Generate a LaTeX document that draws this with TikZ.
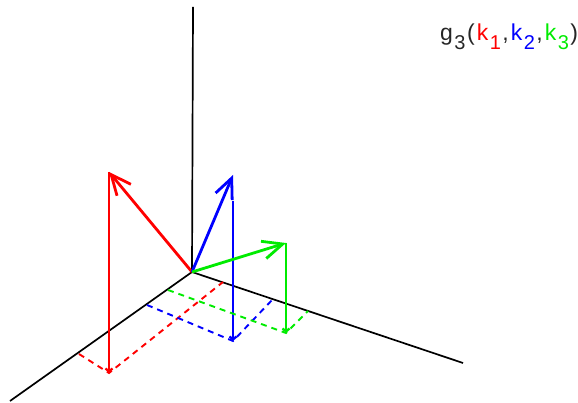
\documentclass[tikz,border=0pt]{standalone}
\usepackage{fontspec}
\setmainfont{Liberation Sans}
\usetikzlibrary{arrows.meta}
\definecolor{rr}{RGB}{255,0,0}
\definecolor{bb}{RGB}{0,0,255}
\definecolor{gg}{RGB}{0,235,0}
\tikzset{
  axis/.style={line width=1.7pt, black},
  vec/.style={line width=2.8pt, -{Straight Barb[length=20pt,width=18pt]}},
  drop/.style={line width=2.3pt, -{Straight Barb[length=3pt,width=7pt]}},
  proj/.style={line width=1.9pt, dash pattern=on 6pt off 5pt},
}
\newcommand{\subsc}[1]{\hspace{1.5pt}\raisebox{-0.38em}{\fontsize{20}{20}\selectfont #1}\hspace{1.5pt}}
\newcommand{\gp}{\hspace{2pt}}
\begin{document}
\begin{tikzpicture}[x=1pt,y=-1pt]
\useasboundingbox (0,0) rectangle (578,403);
% axes
\coordinate (O) at (192,272);
\coordinate (Z) at (193,7);
\coordinate (L) at (10,401);
\coordinate (R) at (463,363);
\draw[axis] (O) -- (Z);
\draw[axis] (O) -- (L);
\draw[axis] (O) -- (R);
% red
\coordinate (rt) at (109,172);
\coordinate (rg) at (109,373);
\coordinate (rl) at (79,354);
\coordinate (rr) at (223,282);
\draw[proj, rr] (rl) -- (rg) -- (rr);
\draw[drop, rr] (rt) -- (rg);
\draw[vec, rr] (O) -- (rt);
% blue
\coordinate (bt) at (233,175);
\coordinate (bv) at (233,201);
\coordinate (bg) at (233,341);
\coordinate (bl) at (147,305);
\coordinate (br) at (273,299);
\draw[proj, bb] (bl) -- (bg) -- (br);
\draw[drop, bb] (bv) -- (bg);
\draw[vec, bb] (O) -- (bt);
% green
\coordinate (gt) at (286,243);
\coordinate (gg) at (286,333);
\coordinate (gl) at (168,290);
\coordinate (gr) at (308,311);
\draw[proj, gg] (gl) -- (gg) -- (gr);
\draw[drop, gg] (gt) -- (gg);
\draw[vec, gg] (O) -- (gt);
% label
\node[anchor=base west, inner sep=0pt, font=\fontsize{23}{27}\selectfont, text=black!85] (lab) at (440,41)
  {g\subsc{3}(\gp\textcolor{rr}{k\subsc{1}},\gp\textcolor{bb}{k\subsc{2}},\gp\textcolor{gg}{k\subsc{3}})};
\end{tikzpicture}
\end{document}
